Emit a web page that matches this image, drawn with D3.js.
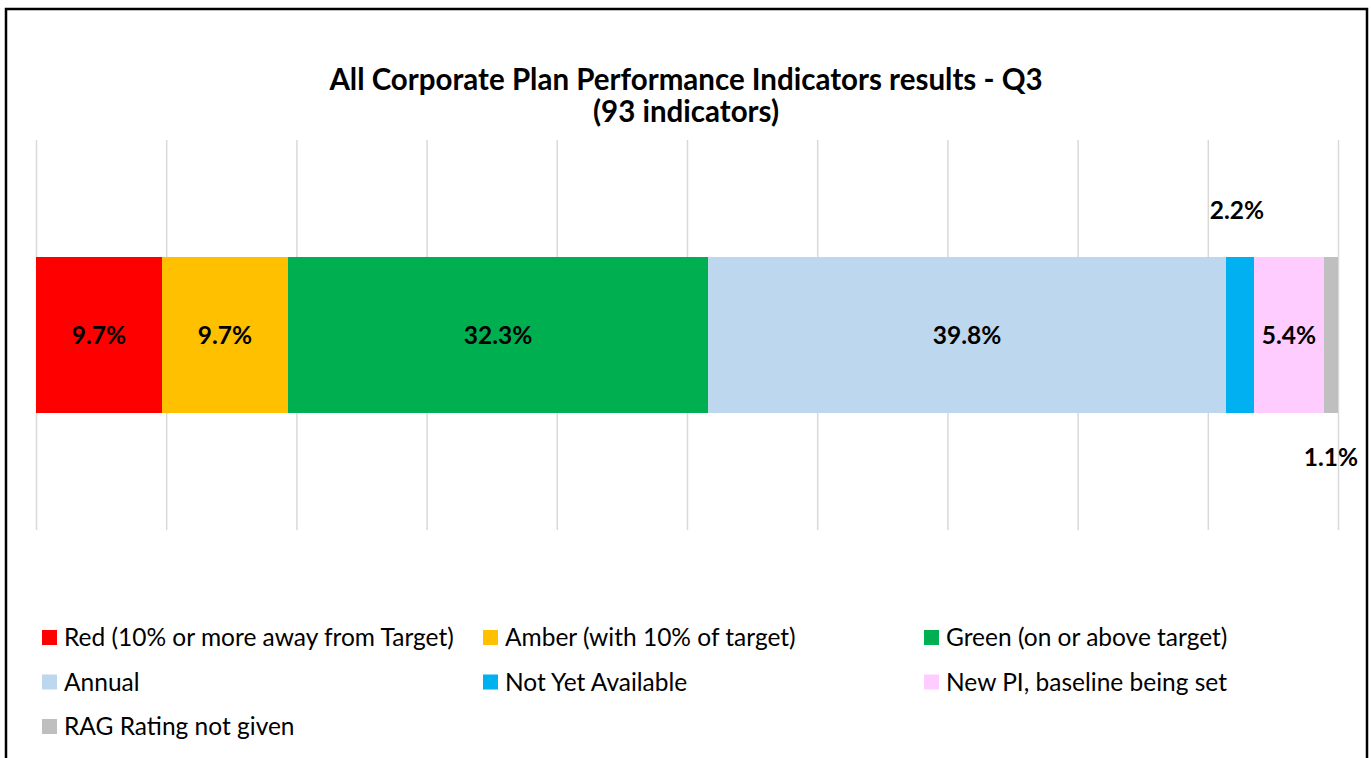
<!DOCTYPE html>
<html>
<head>
    <meta charset="utf-8">
    <title>All Corporate Plan Performance Indicators results - Q3</title>
    <script src="https://d3js.org/d3.v7.min.js"></script>
    <style>
        body { margin: 0; background: #fff; }
        svg { display: block; font-family: Lato, "Open Sans", sans-serif; }
        .grid line { stroke: #d9d9d9; stroke-width: 1.5; }
        .grid .domain { display: none; }
        .title { font-size: 29.5px; font-weight: bold; fill: #000; }
        .value-label { font-size: 24.5px; font-weight: bold; fill: #000; }
        .legend-text { font-size: 24.5px; fill: #000; }
    </style>
</head>
<body>
    <div id="chart"></div>

    <script>
        // categories (legend order = stacking order)
        const categories = [
            "Red (10% or more away from Target)",
            "Amber (with 10% of target)",
            "Green (on or above target)",
            "Annual",
            "Not Yet Available",
            "New PI, baseline being set",
            "RAG Rating not given"
        ];
        // number of indicators in each category (out of 93) -> 9.7%, 9.7%, 32.3% ...
        const counts = [9, 9, 30, 37, 2, 5, 1];
        const totalIndicators = 93;
        const colors = ["#ff0000", "#ffc000", "#00b050", "#bdd7ee", "#00b0f0", "#ffccff", "#bfbfbf"];
        const gridTicks = [0, 0.1, 0.2, 0.3, 0.4, 0.5, 0.6, 0.7, 0.8, 0.9, 1];
        const titleLines = ["All Corporate Plan Performance Indicators results - Q3", "(93 indicators)"];

        const width = 1372, height = 758;
        const plot = {left: 36, right: 1338, top: 140, bottom: 530};

        const svg = d3.select("#chart").append("svg")
            .attr("width", width)
            .attr("height", height);

        svg.append("rect")
            .attr("width", width)
            .attr("height", height)
            .attr("fill", "#fff");

        // chart frame (bottom edge runs off the picture)
        svg.append("rect")
            .attr("x", 6)
            .attr("y", 9)
            .attr("width", 1361)
            .attr("height", 800)
            .attr("fill", "none")
            .attr("stroke", "#000")
            .attr("stroke-width", 2.5);

        svg.selectAll(".title")
            .data(titleLines)
            .enter().append("text")
            .attr("class", "title")
            .attr("x", 686)
            .attr("y", (d, i) => 90 + i * 32)
            .attr("text-anchor", "middle")
            .text(d => d);

        // share of the total
        const shares = counts.map(c => c / totalIndicators);
        const ends = d3.cumsum(shares);
        const segs = shares.map((s, i) => ({
            name: categories[i],
            share: s,
            x0: ends[i] - s,
            x1: ends[i],
            color: colors[i]
        }));

        var xScale = d3.scaleLinear().domain([0, 1]).range([plot.left, plot.right]);
        var yScale = d3.scaleBand().domain(["Q3"]).range([plot.top, plot.bottom]).padding(3 / 7);

        // vertical gridlines
        svg.append("g")
            .attr("class", "grid")
            .attr("transform", "translate(0," + plot.bottom + ")")
            .call(d3.axisBottom(xScale)
                .tickValues(gridTicks)
                .tickSize(-(plot.bottom - plot.top))
                .tickFormat(""))
            .call(g => g.selectAll("line").attr("stroke", "#d9d9d9"));

        svg.selectAll(".seg")
            .data(segs)
            .enter().append("rect")
            .attr("class", "seg")
            .attr("x", d => xScale(d.x0))
            .attr("y", yScale("Q3"))
            .attr("width", d => xScale(d.x1) - xScale(d.x0))
            .attr("height", yScale.bandwidth())
            .attr("fill", d => d.color);

        // labels: small slices go above / below the bar
        const fmt = d3.format(".1%");
        const barTop = yScale("Q3"), barBottom = yScale("Q3") + yScale.bandwidth();
        function labelY(d) {
            if (d.name === "Not Yet Available") return barTop - 38;
            if (d.name === "RAG Rating not given") return barBottom + 53;
            return (barTop + barBottom) / 2 + 9;
        }

        svg.selectAll(".value-label")
            .data(segs)
            .enter().append("text")
            .attr("class", "value-label")
            .attr("x", d => xScale((d.x0 + d.x1) / 2) - (d.name === "Not Yet Available" ? 3 : 0))
            .attr("y", labelY)
            .attr("text-anchor", "middle")
            .text(d => fmt(d.share));

        // legend, 3 columns
        const legend = svg.selectAll(".legend")
            .data(segs)
            .enter().append("g")
            .attr("class", "legend")
            .attr("transform", (d, i) => "translate(" + (42 + (i % 3) * 441) + "," + (630 + Math.floor(i / 3) * 44.5) + ")");

        legend.append("rect")
            .attr("width", 15)
            .attr("height", 15)
            .attr("fill", d => d.color);

        legend.append("text")
            .attr("class", "legend-text")
            .attr("x", 22)
            .attr("y", 16)
            .text(d => d.name);
    </script>
</body>
</html>
